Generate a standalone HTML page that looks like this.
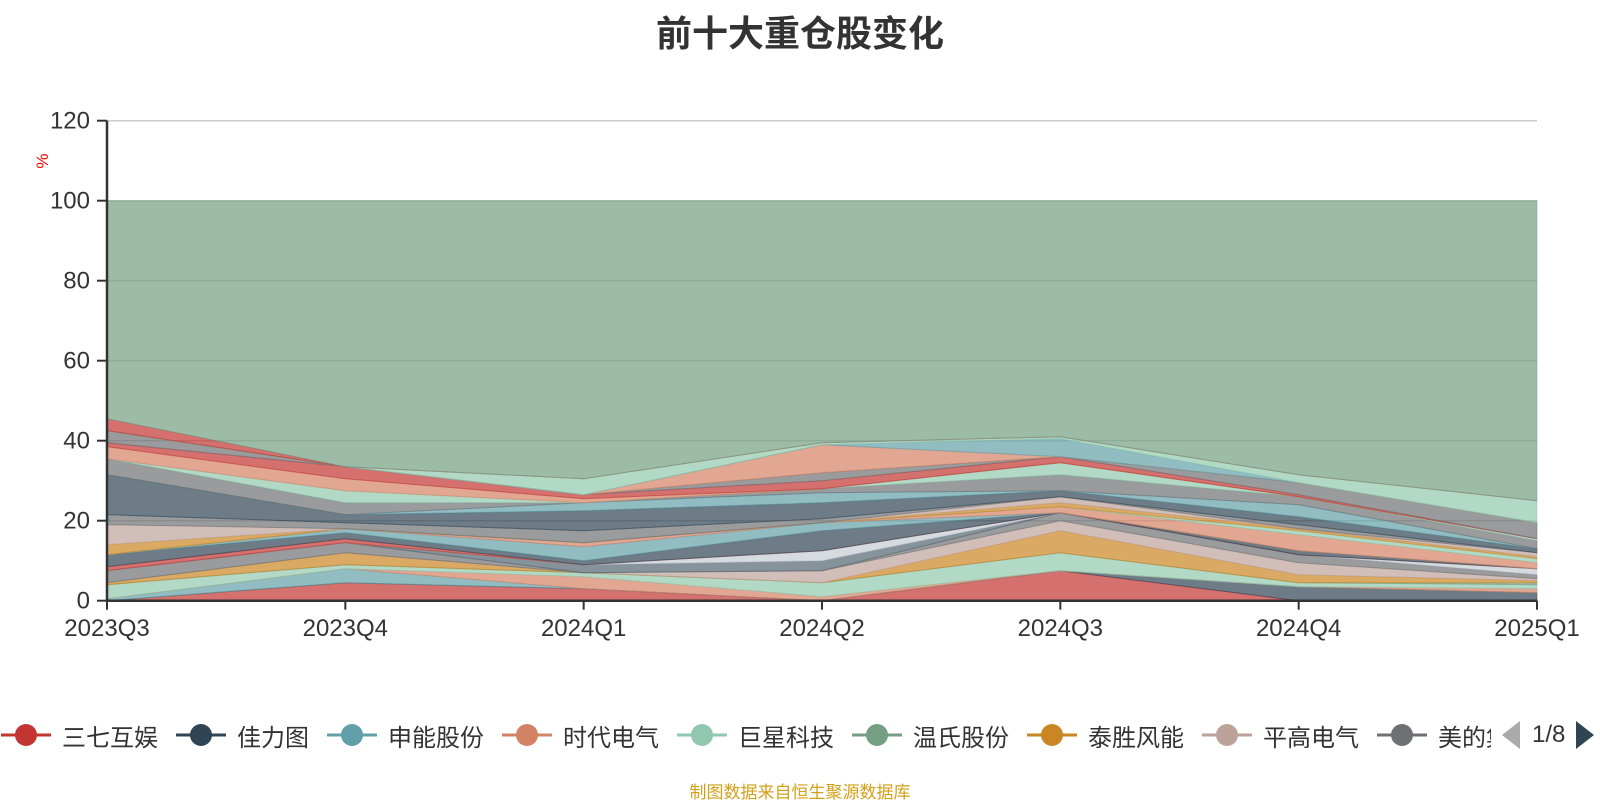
<!DOCTYPE html>
<html><head><meta charset="utf-8"><style>
body{margin:0;width:1600px;height:800px;background:#fff;overflow:hidden;font-family:"Liberation Sans","Noto Sans CJK SC",sans-serif;}
#title{position:absolute;left:0;width:1600px;top:5px;text-align:center;font-size:36px;font-weight:bold;color:#333;}
#legend{position:absolute;left:1px;top:717px;width:1490px;height:36px;overflow:hidden;display:flex;align-items:center;white-space:nowrap;}
.li{display:flex;align-items:center;margin-right:18px;flex:none;}
.li .txt{font-size:24px;color:#333;margin-left:11px;}
#pager{position:absolute;left:1500px;top:717px;height:36px;display:flex;align-items:center;}
#footer{position:absolute;left:0;width:1600px;top:778px;text-align:center;font-size:17px;color:#d4a017;}
</style></head><body>
<div id="title">前十大重仓股变化</div>
<svg id="chart" width="1600" height="700" style="position:absolute;left:0;top:0"></svg>
<div id="legend"></div>
<div id="pager">
<svg width="22" height="30"><polygon points="20,1 20,29 2,15" fill="#aaa"/></svg>
<span style="font-size:24px;color:#333;margin:0 10px 0 10px">1/8</span>
<svg width="20" height="30"><polygon points="1,1 1,29 19,15" fill="#2f4554"/></svg>
</div>
<div id="footer">制图数据来自恒生聚源数据库</div>
<script>
const categories=["2023Q3","2023Q4","2024Q1","2024Q2","2024Q3","2024Q4","2025Q1"];
const yTicks=[0,20,40,60,80,100,120];
const legendNames=["三七互娱","佳力图","申能股份","时代电气","巨星科技","温氏股份","泰胜风能","平高电气","美的集团"];
const palette=['#c23531','#2f4554','#61a0a8','#d48265','#91c7ae','#749f83','#ca8622','#bda29a','#6e7074','#546570','#c4ccd3'];
const s1=[0,4.5,3,0,7.5,0,0];
const s2=[0,0,0,0,0,3.5,2];
const s3=[0.5,3.5,0,0,0,0,0];
const s4=[0,0,3,1,0,0,1];
const s5=[3.5,1,1,3.5,4.5,1,1];
const s6=[0,0,0,0,0,0,0.5];
const s7=[0.5,3,0,0,5.5,2,0.5];
const s8=[0,0,0,3,2.5,3,0.5];
const s9=[3,2.5,0,0,2,2,1];
const s10=[0,0,2,2.5,0,0,0];
const s11=[0,0,0,2.5,0,0,1.5];
const s12=[1,1,0,0,0,0,0];
const s13=[3,1.5,1,5,0,1,0];
const s14=[0,1,3.5,2,0,0,0];
const s15=[0,0,1,0,1.5,4,1.5];
const s16=[0,0,0,0,0,1,1];
const s17=[2.5,0,0,0,1,0.5,0.5];
const s18=[5,0,0,0,1.5,0,1];
const s19=[2.5,1.5,3,1,0,1,0];
const s20=[10,2,5,4,1.5,2,1];
const s21=[0,0,2,2.5,0,3,0];
const s22=[4,3,0,1,4,2,2];
const s23=[0,3,0,0,3,0,0.5];
const s24=[3,3,1,0,0,0,0];
const s25=[1,3,1,2,1.5,0.5,0];
const s26=[3,0,0,2,0,3,4];
const s27=[0,0,0,7,0,0,0];
const s28=[0,0,0,0,4.5,0,0];
const s29=[0,0,4,0.5,0.5,2,5.5];
const s30=[3,0,0,0,0,0,0];
const stacks=[s1,s2,s3,s4,s5,s6,s7,s8,s9,s10,s11,s12,s13,s14,s15,s16,s17,s18,s19,s20,s21,s22,s23,s24,s25,s26,s27,s28,s29,s30];
const colorIdx=[0,1,2,3,4,5,6,7,8,9,10,0,1,2,3,4,6,7,8,1,2,8,4,3,0,8,3,2,4,0];

const X0=107,X1=1537,Y0=600.7,PX=4;
function xs(i){return X0+i*(X1-X0)/(categories.length-1);}
function ys(v){return Y0-v*PX;}
const NS="http://www.w3.org/2000/svg";
const svg=document.getElementById('chart');
function mk(t,a){const e=document.createElementNS(NS,t);for(const k in a)e.setAttribute(k,a[k]);svg.appendChild(e);return e;}

yTicks.forEach(v=>{
 if(v>0){const g=mk('line',{x1:X0,x2:X1,y1:ys(v),y2:ys(v),stroke:'#ccc','stroke-width':1.5});
 
 }
 const t=mk('line',{x1:X0-10,x2:X0,y1:ys(v),y2:ys(v),stroke:'#333','stroke-width':2});
 
 
 const l=mk('text',{x:90,y:ys(v)+8,'text-anchor':'end','font-size':24,fill:'#333'});
 l.textContent=v;
 
 
});

let base=categories.map(()=>0);
function area(vals,color,name){
 const top=base.map((b,i)=>b+vals[i]);
 let d='M'+categories.map((c,i)=>xs(i)+','+ys(top[i])).join(' L');
 for(let i=categories.length-1;i>=0;i--)d+=' L'+xs(i)+','+ys(base[i]);
 d+='Z';
 const p=mk('path',{d:d,fill:color,'fill-opacity':0.7,stroke:color,'stroke-opacity':0.5,'stroke-width':1});
 
 
 base=top;
}
stacks.forEach((s,k)=>area(s,palette[colorIdx[k]],'area-series-'+(k+1)));
const other=base.map(b=>100-b);
area(other,'#749f83','area-other');

const ax=mk('line',{x1:X0,x2:X1,y1:Y0,y2:Y0,stroke:'#333','stroke-width':2.5});


const ay=mk('line',{x1:X0,x2:X0,y1:ys(120),y2:Y0,stroke:'#333','stroke-width':2.5});


categories.forEach((c,i)=>{
 const t=mk('line',{x1:xs(i),x2:xs(i),y1:Y0,y2:Y0+9,stroke:'#333','stroke-width':2});
 
 
 const l=mk('text',{x:xs(i),y:636,'text-anchor':'middle','font-size':24,fill:'#333'});
 l.textContent=c;
 
 
});
const yt=mk('text',{x:0,y:0,'font-size':17,fill:'red','text-anchor':'middle',transform:'translate(48,161) rotate(-90)'});
yt.textContent='%';



const lg=document.getElementById('legend');
legendNames.forEach((n,i)=>{
 const d=document.createElement('div');d.className='li';
 
 
 const c=palette[i];
 d.innerHTML='<svg width="50" height="30"><line x1="0" x2="50" y1="15" y2="15" stroke="'+c+'" stroke-width="3"/><circle cx="25" cy="15" r="11" fill="'+c+'"/></svg><span class="txt">'+n+'</span>';
 lg.appendChild(d);
});
</script>
</body></html>
